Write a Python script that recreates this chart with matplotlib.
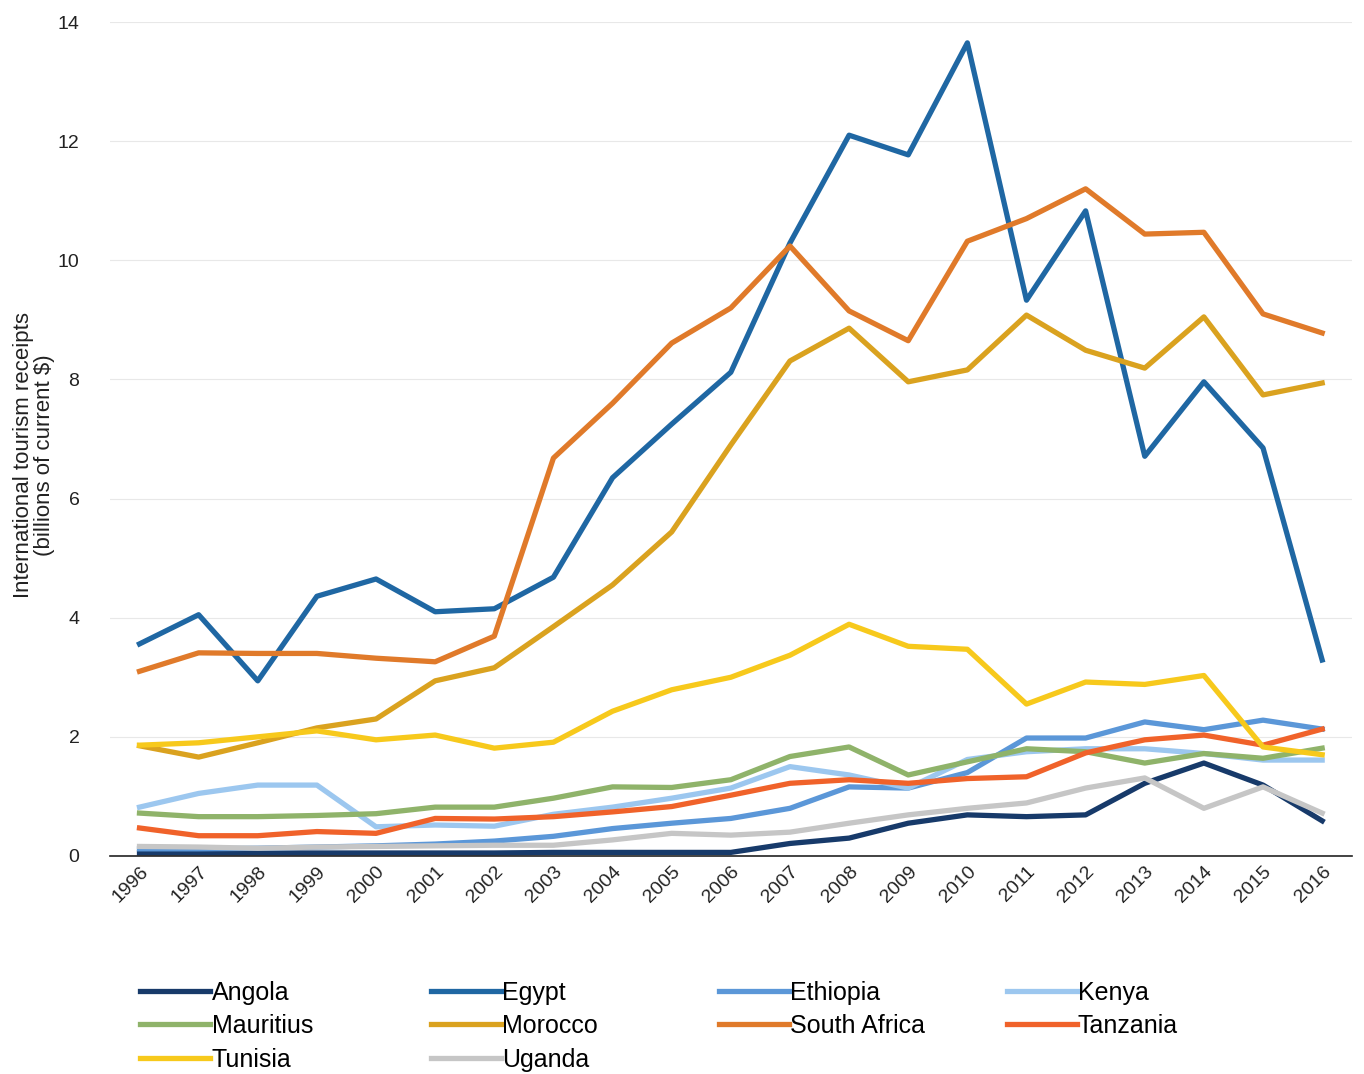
import matplotlib
matplotlib.use("Agg")
import matplotlib.pyplot as plt

years = list(range(1996, 2017))

angola = [0.05, 0.05, 0.05, 0.05, 0.05, 0.05, 0.05, 0.06, 0.06, 0.06, 0.06,
          0.21, 0.3, 0.55, 0.69, 0.66, 0.69, 1.22, 1.56, 1.19, 0.59]
egypt = [3.56, 4.05, 2.94, 4.36, 4.65, 4.1, 4.15, 4.68, 6.35, 7.25, 8.12,
         10.29, 12.1, 11.77, 13.65, 9.33, 10.83, 6.71, 7.96, 6.85, 3.29]
ethiopia = [0.12, 0.12, 0.13, 0.15, 0.17, 0.2, 0.25, 0.33, 0.46, 0.55, 0.63,
            0.8, 1.16, 1.14, 1.4, 1.98, 1.98, 2.25, 2.12, 2.28, 2.13]
kenya = [0.82, 1.05, 1.19, 1.19, 0.49, 0.52, 0.5, 0.7, 0.82, 0.97, 1.14,
         1.5, 1.36, 1.14, 1.62, 1.75, 1.8, 1.8, 1.72, 1.61, 1.61]
mauritius = [0.72, 0.66, 0.66, 0.68, 0.71, 0.82, 0.82, 0.97, 1.16, 1.15, 1.28,
             1.67, 1.83, 1.36, 1.58, 1.8, 1.75, 1.56, 1.72, 1.64, 1.81]
morocco = [1.85, 1.66, 1.9, 2.15, 2.3, 2.94, 3.16, 3.85, 4.55, 5.44, 6.9,
           8.31, 8.86, 7.96, 8.16, 9.08, 8.49, 8.19, 9.05, 7.74, 7.94]
south_africa = [3.1, 3.41, 3.4, 3.4, 3.32, 3.26, 3.69, 6.68, 7.6, 8.61, 9.2,
                10.24, 9.15, 8.65, 10.32, 10.7, 11.2, 10.44, 10.47, 9.1, 8.78]
tanzania = [0.47, 0.34, 0.34, 0.41, 0.38, 0.63, 0.62, 0.66, 0.74, 0.83, 1.02,
            1.22, 1.28, 1.22, 1.3, 1.33, 1.73, 1.95, 2.03, 1.86, 2.13]
tunisia = [1.86, 1.9, 2.0, 2.1, 1.95, 2.03, 1.81, 1.91, 2.43, 2.79, 3.0,
           3.37, 3.89, 3.52, 3.47, 2.55, 2.92, 2.88, 3.03, 1.83, 1.7]
uganda = [0.16, 0.15, 0.13, 0.15, 0.16, 0.17, 0.18, 0.18, 0.27, 0.38, 0.35,
          0.4, 0.55, 0.69, 0.8, 0.89, 1.14, 1.31, 0.8, 1.16, 0.72]

series = [
    ("Angola", angola, "#173a6a"),
    ("Egypt", egypt, "#1f67a3"),
    ("Ethiopia", ethiopia, "#5b97d8"),
    ("Kenya", kenya, "#9cc7ef"),
    ("Mauritius", mauritius, "#8fb36a"),
    ("Morocco", morocco, "#daa21f"),
    ("South Africa", south_africa, "#e07a2a"),
    ("Tanzania", tanzania, "#f0622a"),
    ("Tunisia", tunisia, "#f7c91c"),
    ("Uganda", uganda, "#c6c6c6"),
]

font = ["Liberation Sans", "DejaVu Sans"]

fig = plt.figure(figsize=(13.64, 10.74), dpi=100)
ax = fig.add_axes([0.0806, 0.203, 0.9104, 0.7765])

handles = {}
for name, vals, color in series:
    line, = ax.plot(years, vals, color=color, lw=3.8, label=name)
    handles[name] = line

ax.set_xlim(1995.5, 2016.5)
ax.set_ylim(0, 14)
ax.set_yticks(range(0, 15, 2))
ax.set_xticks(years)
ax.set_xticklabels([str(y) for y in years], rotation=45, ha="right",
                   rotation_mode="anchor", fontsize=14, family=font)
for t in ax.get_yticklabels():
    t.set_family(font)
ax.tick_params(axis="y", labelsize=14, length=0, pad=22, colors="#222222")
ax.tick_params(axis="x", length=0, pad=5, colors="#222222")
ax.grid(axis="y", color="#e8e8e8", lw=0.8)
ax.set_axisbelow(True)
for s in ["top", "right", "left"]:
    ax.spines[s].set_visible(False)
ax.spines["bottom"].set_color("#222222")
ax.spines["bottom"].set_linewidth(1.2)

fig.text(0.025, 0.576, "International tourism receipts\n(billions of current $)",
         rotation=90, ha="center", va="center", fontsize=16, family=font,
         linespacing=1.0, color="#222222")

# one small legend per column so the columns line up with the reference
columns = [["Angola", "Mauritius", "Tunisia"],
           ["Egypt", "Morocco", "Uganda"],
           ["Ethiopia", "South Africa"],
           ["Kenya", "Tanzania"]]
col_x = [0.103, 0.316, 0.527, 0.738]
for names, x in zip(columns, col_x):
    fig.legend([handles[n] for n in names], names, loc="upper left",
               bbox_to_anchor=(x, 0.087), frameon=False,
               prop={"family": font, "size": 18}, handlelength=2.8,
               handletextpad=0.05, labelspacing=0.38, borderpad=0,
               borderaxespad=0)

fig.savefig("out.png", dpi=100)
